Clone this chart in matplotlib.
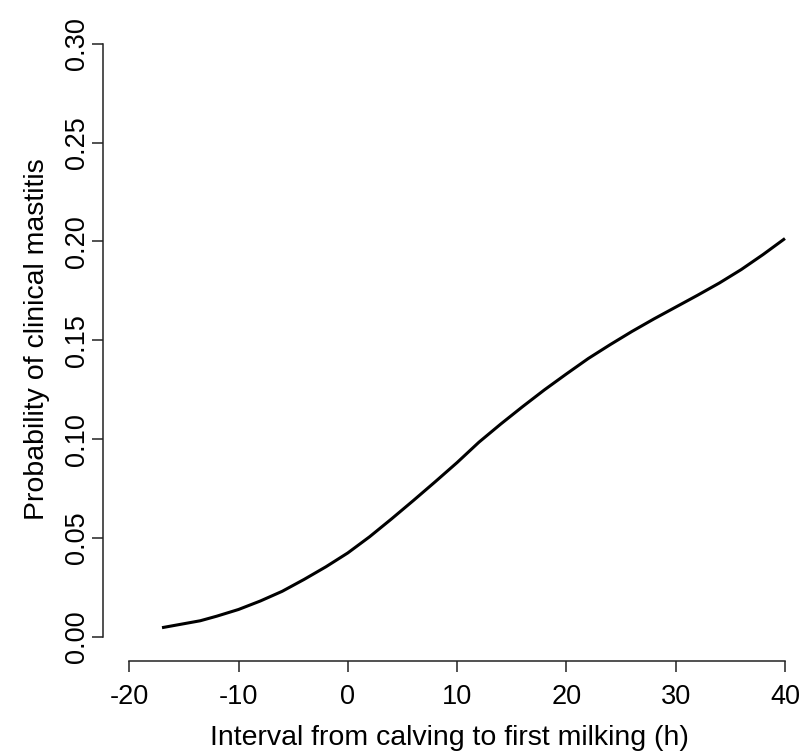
import numpy as np
import matplotlib
matplotlib.use("Agg")
import matplotlib.pyplot as plt

plt.rcParams['font.family'] = ['Liberation Sans', 'DejaVu Sans']

# Values
interval_h = [-17, -15, -13.5, -12, -10, -8, -6, -4, -2, 0, 2, 4, 6, 8, 10,
              12, 14, 16, 18, 20, 22, 24, 26, 28, 30, 32, 34, 36, 38, 40]
prob_mastitis = [0.0047, 0.0067, 0.0082, 0.0105, 0.0139, 0.0182, 0.0231,
                 0.0291, 0.0355, 0.0425, 0.0507, 0.0597, 0.0690, 0.0785,
                 0.0882, 0.0985, 0.1077, 0.1165, 0.1250, 0.1330, 0.1408,
                 0.1478, 0.1545, 0.1608, 0.1668, 0.1728, 0.1790, 0.1858,
                 0.1934, 0.2015]

x_ticks = [-20, -10, 0, 10, 20, 30, 40]
y_ticks = [0.00, 0.05, 0.10, 0.15, 0.20, 0.25, 0.30]

fig = plt.figure(figsize=(8.02, 7.51), dpi=100)
ax = fig.add_axes([103 / 802, (751 - 660.7) / 751, 699 / 802, (660.7 - 20) / 751])

ax.plot(interval_h, prob_mastitis, color='black', lw=2.2, solid_capstyle='butt')

ax.set_xlim(-22.4, 41.56)
ax.set_ylim(-0.012, 0.312)

for s in ['top', 'right']:
    ax.spines[s].set_visible(False)
ax.spines['left'].set_bounds(0, 0.30)
ax.spines['bottom'].set_bounds(-20, 40)
for s in ['left', 'bottom']:
    ax.spines[s].set_linewidth(1.1)
    ax.spines[s].set_color('#222222')

ax.set_xticks(x_ticks)
ax.set_xticklabels([str(t) for t in x_ticks])
ax.set_yticks(y_ticks)
ax.set_yticklabels([f"{t:.2f}" for t in y_ticks])
ax.tick_params(axis='both', length=8, width=1.1, color='#222222',
               labelsize=19.5, direction='out')
ax.tick_params(axis='x', pad=9)
ax.tick_params(axis='y', pad=1.5, labelrotation=90)
for lab in ax.get_yticklabels():
    lab.set_va('center')

ax.set_xlabel("Interval from calving to first milking (h)", fontsize=20.5)
ax.set_ylabel("Probability of clinical mastitis", fontsize=20.5)
ax.xaxis.set_label_coords(0.495, -0.1004)
ax.yaxis.set_label_coords(-0.0758, 0.502)

fig.savefig("out.png", dpi=100)
